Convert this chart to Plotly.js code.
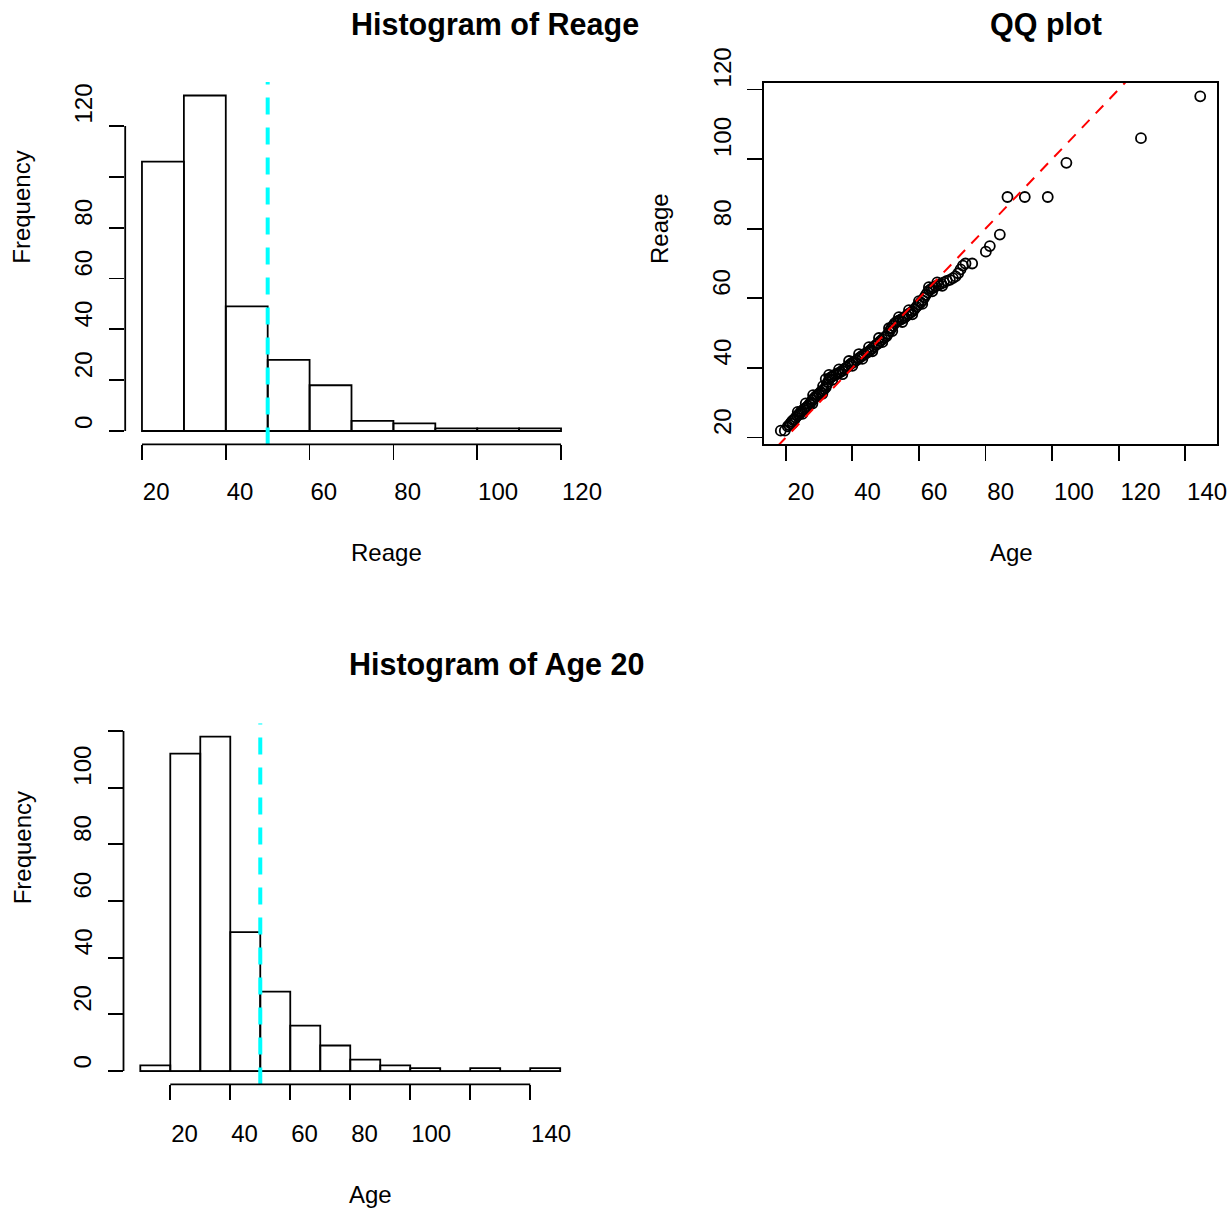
<!DOCTYPE html>
<html>
<head>
<meta charset="utf-8">
<script src="https://cdn.plot.ly/plotly-3.0.1.min.js"></script>
<style>
html,body{margin:0;padding:0;background:#ffffff;}
#chart{width:1232px;height:1211px;}
</style>
</head>
<body>
<div id="chart"></div>
<script>
// ---------------- DATA ----------------
// Histogram of Reage
const reageBreaks = [20, 30, 40, 50, 60, 70, 80, 90, 100, 110, 120];
const reageCounts = [106, 132, 49, 28, 18, 4, 3, 1, 1, 1];
const reageXTicks = [20, 40, 60, 80, 100, 120];
const reageXTickText = ['20', '40', '60', '80', '100', '120'];
const reageYTicks = [0, 20, 40, 60, 80, 100, 120];
const reageYTickText = ['0', '20', '40', '60', '80', '', '120'];
const reageMark = [50];

// Histogram of Age 20
const ageBreaks = [10, 20, 30, 40, 50, 60, 70, 80, 90, 100, 110, 120, 130, 140, 150];
const ageCounts = [2, 112, 118, 49, 28, 16, 9, 4, 2, 1, 0, 1, 0, 1];
const ageXTicks = [20, 40, 60, 80, 100, 120, 140];
const ageXTickText = ['20', '40', '60', '80', '100', '', '140'];
const ageYTicks = [0, 20, 40, 60, 80, 100, 120];
const ageYTickText = ['0', '20', '40', '60', '80', '100', ''];
const ageMark = [50];

// QQ plot (Age vs Reage quantiles)
const qqAge = [18.5, 19.7, 20.6, 21.0, 21.4, 21.8, 22.2, 22.6, 23.0, 23.5, 24.0, 24.4, 24.8, 25.3, 25.8, 26.2, 26.6, 27.1, 27.6, 28.0,
  28.5, 29.0, 29.5, 30.0, 30.5, 31.0, 31.5, 32.0, 32.3, 32.7, 33.1, 33.5, 34.0, 34.6, 35.2, 35.8, 36.4, 37.0, 37.6, 38.2,
  38.8, 39.4, 40.0, 40.6, 41.2, 41.8, 42.4, 43.0, 43.6, 44.2, 44.8, 45.4, 46.0, 46.6, 47.2, 47.8, 48.4, 49.0, 49.6, 50.2,
  50.7, 51.2, 51.7, 52.2, 52.7, 53.3, 53.9, 54.5, 55.1, 55.7, 56.3, 56.9, 57.5, 58.1, 58.7, 59.3, 59.9, 60.5, 61.1, 61.6,
  62.1, 62.6, 63.1, 63.7, 64.4, 65.1, 65.9, 66.7, 67.5, 68.4, 69.3, 70.2, 71.0, 71.8, 72.5, 73.2, 74.0, 76.0, 80.1, 81.3,
  84.3, 86.6, 91.8, 98.7, 104.3, 126.7, 144.5,
  23.6, 26.0, 28.2, 31.2, 32.0, 33.0, 36.0, 39.0, 42.0, 45.0, 48.0, 51.0, 54.0, 57.0, 60.0, 63.0, 65.5,
  22.0, 25.0, 28.0, 31.0, 34.0, 37.0, 40.0, 43.0, 46.0, 49.0, 52.0, 55.0, 58.0, 61.0, 64.0, 67.0];
const qqReage = [22.0, 22.0, 23.2, 23.6, 24.1, 24.6, 25.0, 25.2, 25.8, 26.3, 26.7, 27.2, 27.6, 28.0, 28.3, 28.7, 29.0, 29.6, 30.2, 30.8,
  31.3, 31.8, 32.2, 32.6, 33.1, 33.5, 33.9, 34.4, 35.2, 36.0, 36.8, 37.3, 37.6, 37.9, 38.2, 38.5, 38.8, 39.2, 39.7, 40.1,
  40.6, 41.1, 41.5, 41.8, 42.2, 42.7, 43.1, 43.5, 43.9, 44.3, 44.6, 45.1, 45.6, 46.2, 46.7, 47.1, 47.7, 48.2, 48.7, 49.1,
  49.8, 50.6, 51.4, 52.1, 52.8, 53.3, 53.6, 53.9, 54.2, 54.5, 55.0, 55.5, 55.9, 56.3, 56.9, 57.6, 58.2, 58.8, 59.4, 60.2,
  61.0, 61.7, 62.3, 62.7, 63.1, 63.5, 63.9, 64.2, 64.6, 65.0, 65.3, 65.8, 66.3, 67.2, 68.3, 69.4, 70.0, 70.0, 73.4, 75.0,
  78.3, 89.1, 89.1, 89.1, 98.9, 106.0, 118.0,
  27.4, 29.8, 32.2, 34.8, 36.8, 38.0, 39.6, 42.0, 44.0, 46.0, 48.6, 51.4, 54.6, 56.6, 59.2, 63.2, 64.6,
  24.0, 26.8, 29.8, 32.6, 36.6, 38.2, 40.6, 42.6, 44.8, 47.4, 50.6, 53.2, 55.4, 58.4, 62.0, 63.6];
const qqLineCoef = [0, 1];   // intercept, slope of the reference line
const qqXTicks = [20, 40, 60, 80, 100, 120, 140];
const qqYTicks = [20, 40, 60, 80, 100, 120];

// ---------------- LAYOUT HELPERS ----------------
const W = 1232, H = 1211;
const FONT = 'Liberation Sans, Arial, Helvetica, sans-serif';
const px = v => v / W;
const py = v => 1 - v / H;
const usr = (lo, hi) => [lo - 0.04 * (hi - lo), hi + 0.04 * (hi - lo)];
const minOf = a => Math.min.apply(null, a);
const maxOf = a => Math.max.apply(null, a);

// plot regions in pixels (left, right, top, bottom)
const R1 = {l: 125.2, r: 577.8, t: 82.1, b: 444.4};
const RQ = {l: 764, r: 1217, t: 83, b: 444};
const R2 = {l: 123.5, r: 577, t: 723.3, b: 1084.4};

const tickFont = {family: FONT, size: 24, color: '#000'};
const LW = 1.8;

function xAxis(reg, range, vals, text, anchor, box, standoff) {
  return {
    domain: [px(reg.l), px(reg.r)], range: range, anchor: anchor,
    tickmode: 'array', tickvals: vals, ticktext: text,
    ticks: 'outside', ticklen: 15, tickwidth: LW, tickcolor: '#000',
    showline: !!box, mirror: !!box, linewidth: LW, linecolor: '#000',
    showgrid: false, zeroline: false,
    ticklabelposition: 'outside right', ticklabelstandoff: standoff,
    tickfont: tickFont, fixedrange: true
  };
}
function yAxis(reg, range, vals, anchor, box) {
  return {
    domain: [py(reg.b), py(reg.t)], range: range, anchor: anchor,
    tickmode: 'array', tickvals: vals,
    ticks: 'outside', ticklen: 15, tickwidth: LW, tickcolor: '#000',
    showline: !!box, mirror: !!box, linewidth: LW, linecolor: '#000',
    showgrid: false, zeroline: false, showticklabels: false, fixedrange: true
  };
}

const r1x = usr(reageBreaks[0], reageBreaks[reageBreaks.length - 1]);
const r1y = usr(0, maxOf(reageCounts));
const r2x = usr(ageBreaks[0], ageBreaks[ageBreaks.length - 1]);
const r2y = usr(0, maxOf(ageCounts));
const rqx = usr(minOf(qqAge), maxOf(qqAge));
const rqy = usr(minOf(qqReage), maxOf(qqReage));

function histTrace(breaks, counts, xa, ya) {
  return {
    type: 'bar', xaxis: xa, yaxis: ya,
    x: breaks.slice(0, -1), y: counts,
    width: breaks.slice(1).map((b, i) => b - breaks[i]), offset: 0,
    marker: {color: 'rgba(0,0,0,0)', line: {color: '#000', width: LW}},
    hoverinfo: 'skip'
  };
}
function markTrace(v, yr, xa, ya) {
  return {
    type: 'scatter', mode: 'lines', xaxis: xa, yaxis: ya,
    x: [v, v], y: [yr[0], yr[1]],
    line: {color: '#00FFFF', width: 4, dash: '17px,13px'},
    hoverinfo: 'skip'
  };
}

const data = [
  histTrace(reageBreaks, reageCounts, 'x', 'y'),
  markTrace(reageMark[0], r1y, 'x', 'y'),
  {
    type: 'scatter', mode: 'markers', xaxis: 'x2', yaxis: 'y2',
    x: qqAge, y: qqReage,
    marker: {symbol: 'circle-open', size: 10, color: '#000', line: {width: 1.8, color: '#000'}},
    hoverinfo: 'skip'
  },
  {
    type: 'scatter', mode: 'lines', xaxis: 'x2', yaxis: 'y2',
    x: rqx, y: rqx.map(v => qqLineCoef[0] + qqLineCoef[1] * v),
    line: {color: '#FF0000', width: 2, dash: '11px,9px'},
    hoverinfo: 'skip'
  },
  histTrace(ageBreaks, ageCounts, 'x3', 'y3'),
  markTrace(ageMark[0], r2y, 'x3', 'y3')
];

// axis segments (R style: from first to last tick) and histogram baselines
const shapes = [
  {type: 'line', xref: 'x', yref: 'paper', x0: reageXTicks[0], x1: reageXTicks[reageXTicks.length - 1], y0: py(R1.b), y1: py(R1.b), line: {color: '#000', width: LW}},
  {type: 'line', xref: 'paper', yref: 'y', x0: px(R1.l), x1: px(R1.l), y0: reageYTicks[0], y1: reageYTicks[reageYTicks.length - 1], line: {color: '#000', width: LW}},
  {type: 'line', xref: 'x3', yref: 'paper', x0: ageXTicks[0], x1: ageXTicks[ageXTicks.length - 1], y0: py(R2.b), y1: py(R2.b), line: {color: '#000', width: LW}},
  {type: 'line', xref: 'paper', yref: 'y3', x0: px(R2.l), x1: px(R2.l), y0: ageYTicks[0], y1: ageYTicks[ageYTicks.length - 1], line: {color: '#000', width: LW}},
  {type: 'line', xref: 'x3', yref: 'y3', x0: ageBreaks[0], x1: ageBreaks[ageBreaks.length - 1], y0: 0, y1: 0, layer: 'below', line: {color: '#000', width: 1.2}}
];

const annotations = [];
function txt(text, x, y, opts) {
  annotations.push(Object.assign({
    text: text, x: x, y: y, xref: 'paper', yref: 'paper',
    showarrow: false, xanchor: 'left', yanchor: 'middle',
    font: {family: FONT, size: 24, color: '#000'}
  }, opts || {}));
}
// titles (text starts at the centre of the plot region, as in the reference)
const titleFont = {family: FONT, size: 30.5, color: '#000', weight: 'bold'};
const SHIFT = 3;
txt('Histogram of Reage', px((R1.l + R1.r) / 2 - SHIFT), py(24.5), {font: titleFont});
txt('QQ plot', px((RQ.l + RQ.r) / 2 - SHIFT), py(24.5), {font: titleFont});
txt('Histogram of Age 20', px((R2.l + R2.r) / 2 - SHIFT), py(664.5), {font: titleFont});
// x axis titles
txt('Reage', px((R1.l + R1.r) / 2 - SHIFT), py(552));
txt('Age', px((RQ.l + RQ.r) / 2 - SHIFT), py(552));
txt('Age', px((R2.l + R2.r) / 2 - SHIFT), py(1194));
// y axis titles (text starts at the vertical centre of the plot region)
txt('Frequency', px(22), py((R1.t + R1.b) / 2 + SHIFT), {textangle: -90, xanchor: 'center', yanchor: 'bottom'});
txt('Reage', px(660), py((RQ.t + RQ.b) / 2 + SHIFT), {textangle: -90, xanchor: 'center', yanchor: 'bottom'});
txt('Frequency', px(22), py((R2.t + R2.b) / 2 + SHIFT), {textangle: -90, xanchor: 'center', yanchor: 'bottom'});
// y tick labels (rotated, starting at the tick)
function yLabels(vals, texts, yref, xPix) {
  vals.forEach((v, i) => {
    if (!texts[i]) return;
    annotations.push({
      text: texts[i], x: px(xPix), y: v, xref: 'paper', yref: yref,
      showarrow: false, textangle: -90, xanchor: 'center', yanchor: 'bottom',
      font: tickFont
    });
  });
}
yLabels(reageYTicks, reageYTickText, 'y', 83.5);
yLabels(qqYTicks, qqYTicks.map(String), 'y2', 722);
yLabels(ageYTicks, ageYTickText, 'y3', 83);

const layout = {
  width: W, height: H,
  margin: {l: 0, r: 0, t: 0, b: 0, pad: 0},
  paper_bgcolor: '#ffffff', plot_bgcolor: 'rgba(0,0,0,0)',
  showlegend: false, hovermode: false,
  font: {family: FONT, size: 24, color: '#000'},
  xaxis: xAxis(R1, r1x, reageXTicks, reageXTickText, 'y', false, 26),
  yaxis: yAxis(R1, r1y, reageYTicks, 'x', false),
  xaxis2: xAxis(RQ, rqx, qqXTicks, qqXTicks.map(String), 'y2', true, 25),
  yaxis2: yAxis(RQ, rqy, qqYTicks, 'x2', true),
  xaxis3: xAxis(R2, r2x, ageXTicks, ageXTickText, 'y3', false, 28),
  yaxis3: yAxis(R2, r2y, ageYTicks, 'x3', false),
  shapes: shapes,
  annotations: annotations
};

Plotly.newPlot('chart', data, layout, {staticPlot: true, displayModeBar: false});
</script>
</body>
</html>
